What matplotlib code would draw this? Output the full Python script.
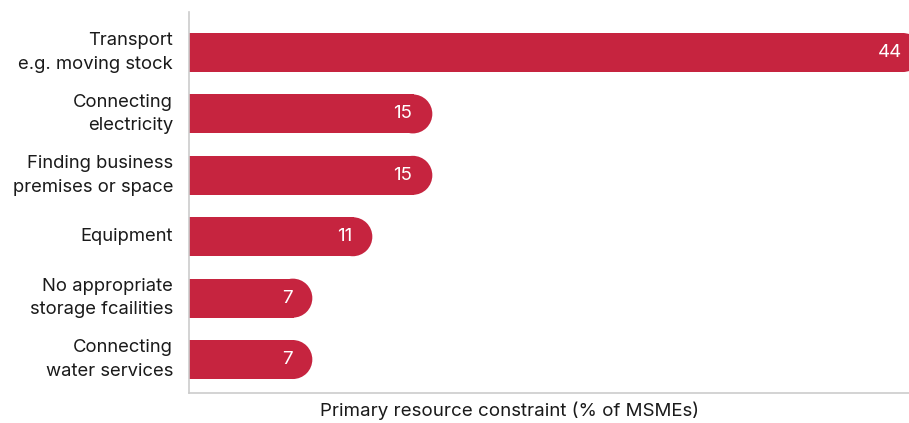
import matplotlib
matplotlib.use("Agg")
import matplotlib.pyplot as plt
from matplotlib.patches import Rectangle, Ellipse

plt.rcParams["font.family"] = ["Inter", "DejaVu Sans"]

categories = [
    "Transport\ne.g. moving stock",
    "Connecting\nelectricity",
    "Finding business\npremises or space",
    "Equipment",
    "No appropriate\nstorage fcailities",
    "Connecting\nwater services",
]
# labels show the rounded numbers
values = [44.0, 14.6, 14.6, 11.0, 7.4, 7.4]
labels = ["44", "15", "15", "11", "7", "7"]

bar_color = "#C6243F"
axis_color = "#CCCCCC"
text_color = "#1A1A1A"

fig = plt.figure(figsize=(9.09, 4.23), dpi=100)
W, H = 909, 423
ax = fig.add_axes([189 / W, (H - 393) / H, 720 / W, 381 / H])

xmax = 43.2
ax.set_xlim(0, xmax)
ax.set_ylim(-0.545, 5.66)

px_per_x = 720 / xmax
bar_h = 0.635
rx = 19.5 / px_per_x  # cap radius in data units

ypos = [5 - i for i in range(len(categories))]

for y, v, lab in zip(ypos, values, labels):
    ax.add_patch(Rectangle((0, y - bar_h / 2), v - rx + 0.05, bar_h,
                           facecolor=bar_color, edgecolor="none"))
    ax.add_patch(Ellipse((v - rx, y), 2 * rx, bar_h,
                         facecolor=bar_color, edgecolor="none"))
    ax.text(v - 20 / px_per_x, y, lab, color="white", fontsize=13.5,
            ha="right", va="center")

ax.set_yticks(ypos)
ax.set_yticklabels(categories, fontsize=13.3, color=text_color,
                   linespacing=1.5, va="center")
ax.tick_params(axis="y", length=0, pad=11.5)
ax.set_xticks([])

for s in ["top", "right"]:
    ax.spines[s].set_visible(False)
for s in ["left", "bottom"]:
    ax.spines[s].set_color(axis_color)
    ax.spines[s].set_linewidth(1.2)

fig.text(510 / W, 1 - 411 / H, "Primary resource constraint (% of MSMEs)",
         ha="center", va="center", fontsize=13.5, color=text_color)

fig.savefig("out.png", dpi=100)
